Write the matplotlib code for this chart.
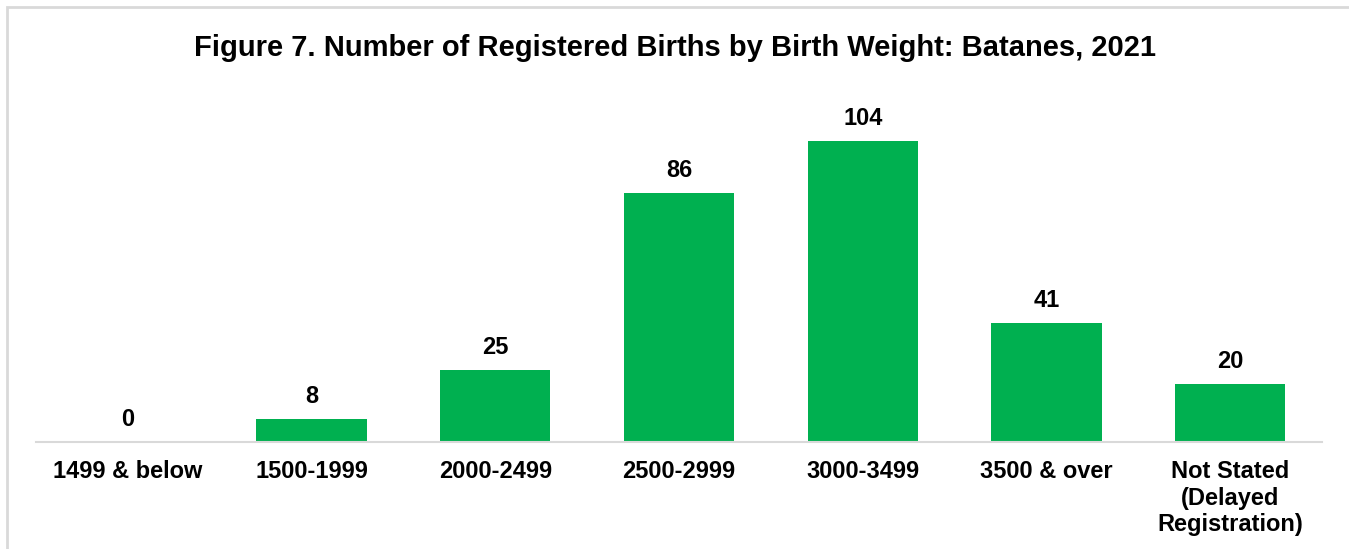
import matplotlib
matplotlib.use("Agg")
import matplotlib.pyplot as plt
from matplotlib.patches import Rectangle

categories = ["1499 & below", "1500-1999", "2000-2499", "2500-2999",
              "3000-3499", "3500 & over", "Not Stated\n(Delayed\nRegistration)"]
births = [0, 8, 25, 86, 104, 41, 20]

plt.rcParams['font.family'] = ['Liberation Sans', 'DejaVu Sans']

W, H = 1349, 549
fig = plt.figure(figsize=(W / 100, H / 100), dpi=100)

# grey frame, clipped on right/bottom like the screenshot
fig.patches.append(Rectangle((7 / W, -0.1), 1.2, 1 - 7 / H + 0.1, transform=fig.transFigure,
                             fill=False, edgecolor='#d9d9d9', linewidth=2))

ax_left, ax_right = 36, 1322
ax_top, ax_bot = 80, 442
ax = fig.add_axes([ax_left / W, 1 - ax_bot / H, (ax_right - ax_left) / W, (ax_bot - ax_top) / H])

x = range(len(categories))
ax.bar(x, births, width=0.6, color='#00b050')
ax.set_xlim(-0.5, len(categories) - 0.5)
ax.set_ylim(0, (ax_bot - ax_top) / 2.894)

for xi, v in zip(x, births):
    ax.annotate(str(v), (xi, v), xytext=(0, 8), textcoords='offset points',
                ha='center', va='bottom', fontsize=17, fontweight='bold')

ax.set_xticks(list(x))
ax.set_xticklabels(categories, fontsize=17, fontweight='bold', linespacing=1.2)
ax.tick_params(axis='x', length=0, pad=13)
ax.set_yticks([])
for s in ['top', 'left', 'right']:
    ax.spines[s].set_visible(False)
ax.spines['bottom'].set_color('#d9d9d9')
ax.spines['bottom'].set_linewidth(1.5)

fig.text(0.5, 1 - 48 / H, "Figure 7. Number of Registered Births by Birth Weight: Batanes, 2021",
         ha='center', va='center', fontsize=21, fontweight='bold')

fig.savefig("out.png", dpi=100)
